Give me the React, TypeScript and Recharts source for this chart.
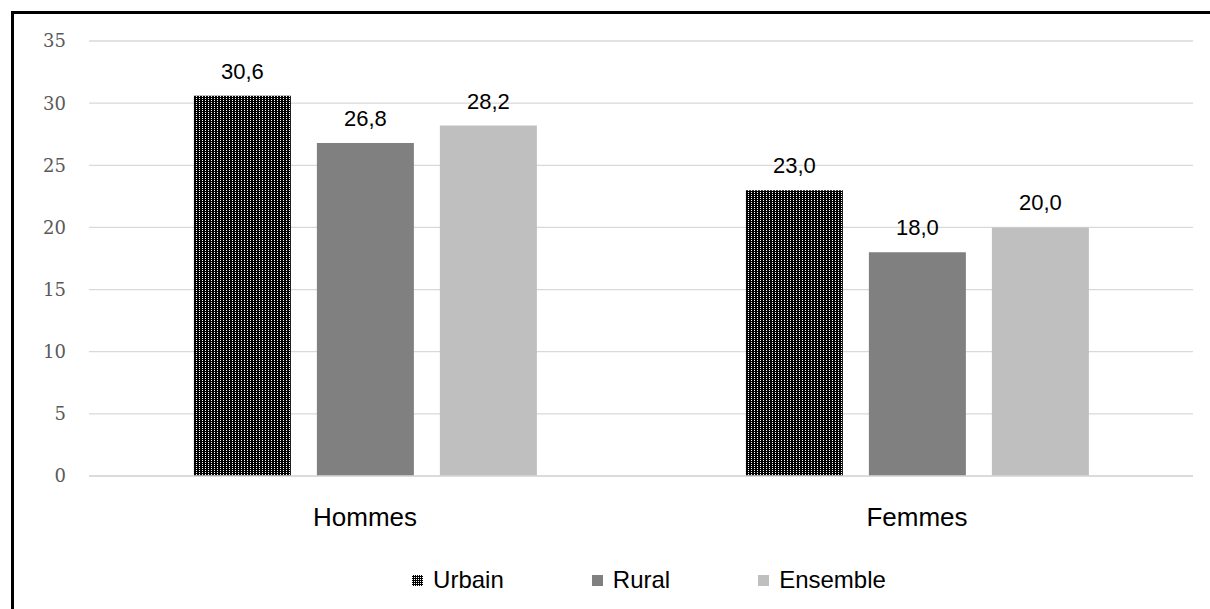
import React from 'react';
import { BarChart, Bar, XAxis, YAxis, CartesianGrid, Legend, LabelList } from 'recharts';

const CATEGORIES = ['Hommes', 'Femmes'];
const URBAIN = [30.6, 23.0];
const RURAL = [26.8, 18.0];
const ENSEMBLE = [28.2, 20.0];
const Y_TICKS = [0, 5, 10, 15, 20, 25, 30, 35];

const SERIES = [
    { key: 'urbain', name: 'Urbain', fill: 'url(#dots)' },
    { key: 'rural', name: 'Rural', fill: '#808080' },
    { key: 'ensemble', name: 'Ensemble', fill: '#bfbfbf' },
];

const data = CATEGORIES.map((c, i) => ({ name: c, urbain: URBAIN[i], rural: RURAL[i], ensemble: ENSEMBLE[i] }));

const fmt = (v: any) => Number(v).toFixed(1).replace('.', ',');

function LegendContent() {
    return (
        <div style={{ display: 'flex', justifyContent: 'center', fontFamily: 'Liberation Sans, Arial, sans-serif', fontSize: 24, color: '#000', paddingLeft: 105 }}>
            {SERIES.map((s, i) => (
                <div key={s.key} style={{ display: 'flex', alignItems: 'center', marginLeft: i ? 88 : 0 }}>
                    <svg width={11} height={11} style={{ marginRight: 10 }}>
                        <defs>
                            <pattern id={`lg${i}`} width={2} height={2} patternUnits="userSpaceOnUse">
                                <rect width={2} height={2} fill="#000" />
                                <rect width={1} height={1} fill="#fff" />
                            </pattern>
                        </defs>
                        <rect width={11} height={11} fill={i === 0 ? `url(#lg${i})` : s.fill} />
                    </svg>
                    <span>{s.name}</span>
                </div>
            ))}
        </div>
    );
}

export default function App() {
    return (
        <div style={{ position: 'absolute', left: 0, top: 0, width: 1210, height: 609, background: '#fff', overflow: 'hidden' }}>
            <div style={{ position: 'absolute', left: 11, top: 11, width: 1300, height: 700, borderTop: '3px solid #000', borderLeft: '3px solid #000' }} />
            <div style={{ position: 'absolute', left: 0, top: 0 }}>
                <BarChart width={1210} height={609} data={data} margin={{ top: 41, right: 17, left: 0, bottom: 15 }} barCategoryGap="19%" barGap={26}>
                    <defs>
                        <pattern id="dots" width={3} height={2} patternUnits="userSpaceOnUse">
                            <rect width={3} height={2} fill="#000" />
                            <rect x={1} width={1} height={1} fill="#fff" />
                        </pattern>
                    </defs>
                    <CartesianGrid vertical={false} stroke="#d9d9d9" strokeWidth={1.3} />
                    <YAxis domain={[0, 35]} ticks={Y_TICKS} width={89} axisLine={false} tickLine={false}
                        tick={{ fill: '#595959', fontSize: 18, fontFamily: 'DejaVu Serif, serif' }} tickMargin={17} />
                    <XAxis dataKey="name" axisLine={{ stroke: '#d9d9d9', strokeWidth: 1.3 }} tickLine={false} height={90}
                        tick={{ fill: '#000', fontSize: 26, fontFamily: 'Liberation Sans, Arial, sans-serif' }} tickMargin={26} />
                    <Legend verticalAlign="bottom" content={<LegendContent />} />
                    {SERIES.map((s) => (
                        <Bar key={s.key} dataKey={s.key} name={s.name} fill={s.fill} isAnimationActive={false}>
                            <LabelList dataKey={s.key} position="top" offset={17} formatter={fmt}
                                style={{ fill: '#000', fontSize: 22, fontFamily: 'Liberation Sans, Arial, sans-serif' }} />
                        </Bar>
                    ))}
                </BarChart>
            </div>
        </div>
    );
}
